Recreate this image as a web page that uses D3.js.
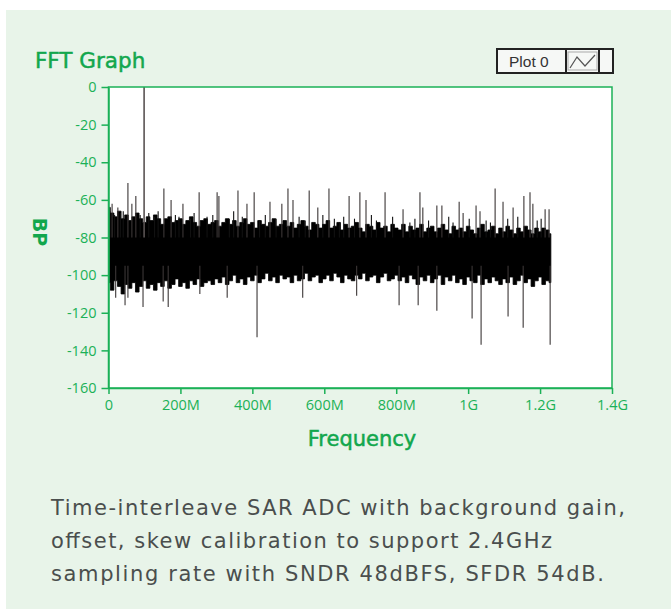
<!DOCTYPE html>
<html>
<head>
<meta charset="utf-8">
<script src="https://cdn.jsdelivr.net/npm/d3@7"></script>
<style>
  body { margin: 0; background: #fff; }
  svg { display: block; }
</style>
</head>
<body>
<div id="chart"></div>
<script>
// x in MHz, y in dB
const xTicks = [0, 200, 400, 600, 800, 1000, 1200, 1400];
const xTickLabels = ["0", "200M", "400M", "600M", "800M", "1G", "1.2G", "1.4G"];
const yTicks = [0, -20, -40, -60, -80, -100, -120, -140, -160];

// noise floor envelope, one value every 10 MHz from 0 to 1230 MHz
const bandStep = 10;
const bandTop = [
  -64, -67, -69, -66, -70, -68, -71, -69, -67, -70,
  -72, -69, -71, -68, -70, -73, -70, -69, -72, -71,
  -70, -73, -71, -69, -72, -74, -71, -70, -73, -72,
  -71, -74, -72, -70, -73, -71, -74, -72, -70, -73,
  -72, -75, -71, -73, -74, -72, -70, -74, -73, -71,
  -74, -72, -75, -73, -71, -74, -76, -72, -73, -75,
  -73, -71, -75, -74, -72, -76, -73, -75, -74, -72,
  -75, -77, -73, -74, -76, -72, -75, -74, -77, -73,
  -75, -76, -73, -77, -74, -76, -75, -73, -77, -75,
  -74, -77, -75, -73, -76, -78, -74, -76, -75, -77,
  -74, -76, -78, -75, -73, -77, -76, -74, -78, -75,
  -77, -74, -76, -78, -75, -77, -74, -76, -78, -75,
  -77, -75, -76, -78
];
const bandBottom = [
  -104, -108, -103, -106, -110, -105, -107, -104, -109, -106,
  -103, -107, -105, -108, -104, -106, -103, -107, -105, -102,
  -106, -104, -107, -103, -105, -102, -106, -104, -103, -105,
  -102, -104, -101, -105, -103, -100, -104, -102, -105, -101,
  -103, -100, -104, -102, -99, -103, -101, -104, -100, -102,
  -101, -104, -100, -103, -102, -99, -103, -101, -100, -104,
  -102, -100, -103, -99, -101, -104, -100, -102, -103, -100,
  -102, -99, -103, -101, -100, -104, -101, -99, -103, -102,
  -100, -103, -101, -104, -100, -102, -105, -101, -103, -100,
  -104, -102, -100, -105, -101, -103, -100, -104, -102, -105,
  -101, -103, -104, -100, -105, -102, -104, -101, -103, -105,
  -102, -104, -101, -105, -103, -100, -104, -102, -106, -103,
  -101, -105, -103, -104
];

// the input tone
const toneFreq = 99;
const toneLevel = 0;

// spurs sticking up out of the floor
const spurFreq = [10, 26, 54, 65, 76, 154, 174, 207, 252, 302, 307, 360, 385, 405, 449, 482,
  499, 513, 558, 582, 613, 669, 699, 716, 769, 819, 866, 874, 913, 927, 975, 986,
  1022, 1033, 1075, 1097, 1125, 1155, 1172, 1180, 1214, 1225];
const spurLevel = [-62, -64, -51, -62, -58, -54, -60, -62, -56, -56, -58, -55, -62, -56, -61, -62,
  -54, -60, -55, -64, -54, -58, -56, -60, -56, -65, -56, -64, -63, -63, -61, -67,
  -63, -66, -54, -61, -64, -58, -56, -62, -65, -65];

// smaller spurs that roughen the top of the floor
const fuzzFreq = [4, 17, 33, 41, 88, 112, 128, 138, 186, 196, 228, 238, 274, 290, 336, 348,
  372, 420, 436, 466, 530, 547, 596, 628, 642, 654, 684, 731, 745, 790, 838, 852,
  890, 946, 958, 1003, 1050, 1062, 1110, 1138, 1192, 1203];
const fuzzLevel = [-66, -68, -67, -66, -68, -67, -69, -66, -68, -69, -70, -67, -69, -68, -70, -66,
  -69, -71, -68, -70, -69, -71, -68, -70, -72, -69, -70, -68, -71, -69, -72, -70,
  -71, -69, -72, -70, -71, -72, -70, -69, -71, -70];

// dips going down below the floor
const dipFreq = [20, 46, 54, 96, 152, 166, 254, 330, 413, 540, 690, 808, 861, 913, 1011, 1036, 1111, 1153, 1228];
const dipLevel = [-112, -116, -112, -117, -114, -117, -110, -112, -133, -112, -111, -116, -116, -119, -123, -137, -122, -128, -137];

const W = 671, H = 609;
const green = "#1bb157";
const textGreen = "#12a74d";
const plot = { left: 108.5, top: 87, width: 503.5, height: 301 };

const svg = d3.select("#chart").append("svg")
  .attr("width", W)
  .attr("height", H);

// light green panel
svg.append("rect")
  .attr("x", 6).attr("y", 10)
  .attr("width", W - 6).attr("height", H - 10)
  .attr("fill", "#e8f4e9");

const x = d3.scaleLinear().domain([0, 1400]).range([0, plot.width]);
const y = d3.scaleLinear().domain([-160, 0]).range([plot.height, 0]);

const g = svg.append("g")
  .attr("transform", `translate(${plot.left},${plot.top})`);

g.append("rect")
  .attr("width", plot.width)
  .attr("height", plot.height)
  .attr("fill", "#fff");

// noise floor
const band = bandTop.map((t, i) => ({ f: i * bandStep, top: t, bottom: bandBottom[i] }));
g.append("path")
  .datum(band)
  .attr("fill", "#000")
  .attr("stroke", "#000")
  .attr("stroke-width", 0.8)
  .attr("d", d3.area()
    .x(d => x(d.f))
    .y0(d => y(d.bottom))
    .y1(d => y(d.top))
    .curve(d3.curveStep));

function sticks(cls, freqs, levels, from, color) {
  g.selectAll("." + cls)
    .data(freqs.map((f, i) => ({ f, v: levels[i] })))
    .join("line")
    .attr("class", cls)
    .attr("x1", d => x(d.f)).attr("x2", d => x(d.f))
    .attr("y1", y(from)).attr("y2", d => y(d.v))
    .attr("stroke", color)
    .attr("stroke-width", 1.1);
}
sticks("fuzz", fuzzFreq, fuzzLevel, -80, "#111");
sticks("spur", spurFreq, spurLevel, -80, "#3b3636");
sticks("dip", dipFreq, dipLevel, -95, "#3b3636");

// the tone
g.append("line")
  .attr("x1", x(toneFreq)).attr("x2", x(toneFreq))
  .attr("y1", y(-80)).attr("y2", y(toneLevel))
  .attr("stroke", "#5a5454")
  .attr("stroke-width", 1.6);

// frame
g.append("rect")
  .attr("width", plot.width)
  .attr("height", plot.height)
  .attr("fill", "none")
  .attr("stroke", green)
  .attr("stroke-width", 1.5);

const tickFont = "'Open Sans', sans-serif";
const font = "'DejaVu Sans', sans-serif";

const yAxis = g.append("g")
  .call(d3.axisLeft(y).tickValues(yTicks).tickSize(7).tickSizeOuter(0).tickPadding(5)
    .tickFormat(d => String(d)));
const xAxis = g.append("g")
  .attr("transform", `translate(0,${plot.height})`)
  .call(d3.axisBottom(x).tickValues(xTicks).tickSize(6).tickSizeOuter(0).tickPadding(6)
    .tickFormat((d, i) => xTickLabels[i]));

[yAxis, xAxis].forEach(a => {
  a.select(".domain").attr("stroke", green).attr("stroke-width", 1.5);
  a.selectAll(".tick line").attr("stroke", green).attr("stroke-width", 1.5);
  a.selectAll(".tick text")
    .attr("fill", green)
    .attr("font-family", tickFont)
    .attr("font-size", "14.5px");
});

// titles
svg.append("text")
  .attr("x", 35).attr("y", 68)
  .attr("fill", textGreen)
  .attr("stroke", textGreen)
  .attr("stroke-width", 0.5)
  .attr("font-family", font)
  .attr("font-size", "21.5px")
  .text("FFT Graph");

svg.append("text")
  .attr("transform", "translate(33,232) rotate(90)")
  .attr("text-anchor", "middle")
  .attr("fill", textGreen)
  .attr("font-family", font)
  .attr("font-weight", 700)
  .attr("font-size", "19px")
  .text("BP");

svg.append("text")
  .attr("x", 362).attr("y", 446)
  .attr("text-anchor", "middle")
  .attr("fill", textGreen)
  .attr("stroke", textGreen)
  .attr("stroke-width", 0.5)
  .attr("font-family", font)
  .attr("font-size", "21px")
  .text("Frequency");

// legend
const leg = svg.append("g");
leg.append("rect")
  .attr("x", 497).attr("y", 49)
  .attr("width", 116).attr("height", 24)
  .attr("fill", "#f6f8f6")
  .attr("stroke", "#222")
  .attr("stroke-width", 2);
leg.append("rect")
  .attr("x", 568).attr("y", 52)
  .attr("width", 29).attr("height", 18)
  .attr("fill", "none")
  .attr("stroke", "#aaa")
  .attr("stroke-width", 1);
leg.append("line")
  .attr("x1", 566).attr("x2", 566).attr("y1", 49).attr("y2", 73)
  .attr("stroke", "#222").attr("stroke-width", 2);
leg.append("line")
  .attr("x1", 599).attr("x2", 599).attr("y1", 49).attr("y2", 73)
  .attr("stroke", "#222").attr("stroke-width", 2);
leg.append("text")
  .attr("x", 509).attr("y", 67)
  .attr("fill", "#333")
  .attr("font-family", "'Liberation Sans', Arial, sans-serif")
  .attr("font-size", "15.5px")
  .text("Plot 0");
leg.append("polyline")
  .attr("points", "570,68 577,57 585,66 595,55")
  .attr("fill", "none")
  .attr("stroke", "#555")
  .attr("stroke-width", 1.2);

// caption
const caption = [
  "Time-interleave SAR ADC with background gain,",
  "offset, skew calibration to support 2.4GHz",
  "sampling rate with SNDR 48dBFS, SFDR 54dB."
];
const captionWidth = [574, 501, 553];
svg.append("g").selectAll("text")
  .data(caption)
  .join("text")
  .attr("x", 51)
  .attr("y", (d, i) => 515 + i * 33)
  .attr("fill", "#4a4e4d")
  .attr("font-family", font)
  .attr("font-size", "21px")
  .attr("textLength", (d, i) => captionWidth[i])
  .attr("lengthAdjust", "spacing")
  .text(d => d);
</script>
</body>
</html>
